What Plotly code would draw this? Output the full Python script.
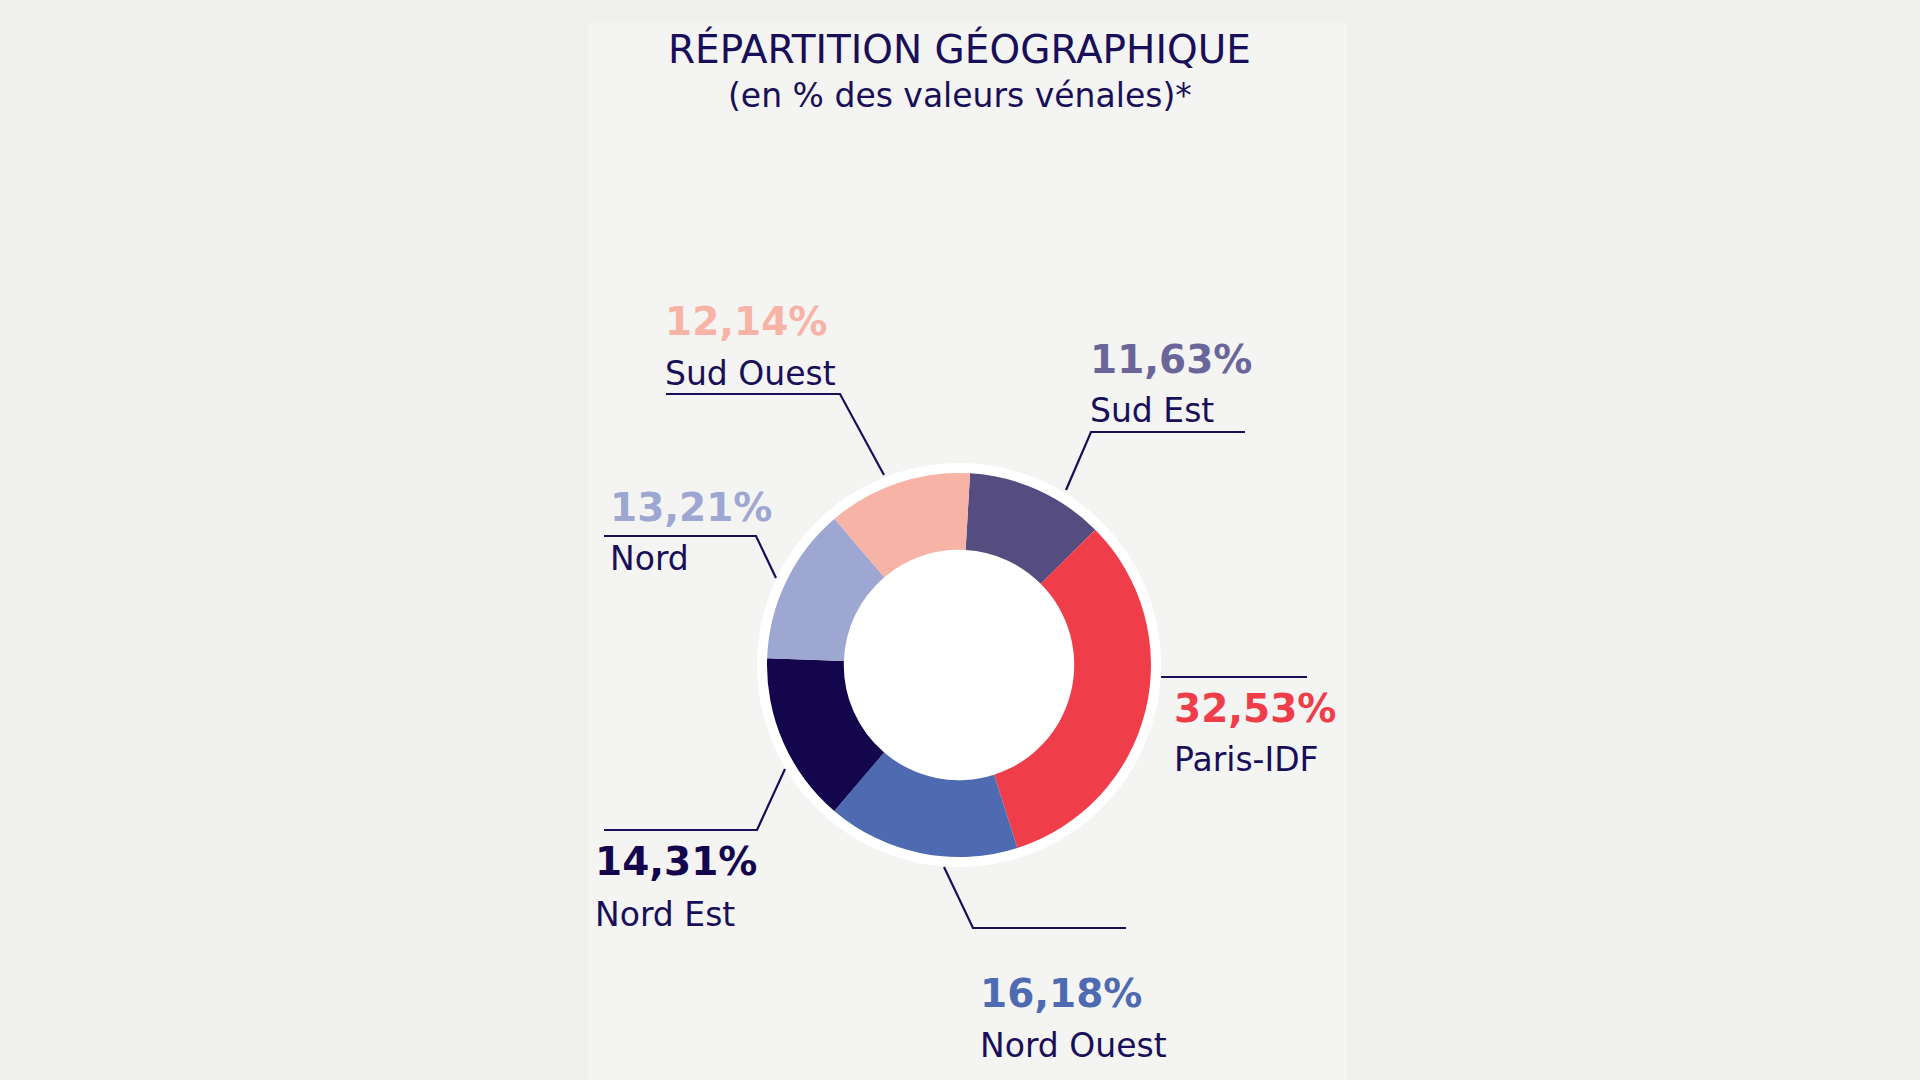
import plotly.graph_objects as go

# ---------------- data ----------------
regions = ["Sud Est", "Paris-IDF", "Nord Ouest", "Nord Est", "Nord", "Sud Ouest"]
shares = [11.63, 32.53, 16.18, 14.31, 13.21, 12.14]
share_labels = ["11,63%", "32,53%", "16,18%", "14,31%", "13,21%", "12,14%"]
slice_colors = ["#554d80", "#ef3e4a", "#4e6bb2", "#13064d", "#9ea7d1", "#f7b3a6"]
pct_colors = ["#6b6699", "#ef3e4a", "#4e6bb2", "#13064d", "#9ea7d1", "#f7b3a6"]

title_text = "RÉPARTITION GÉOGRAPHIQUE"
subtitle_text = "(en % des valeurs vénales)*"

# ---------------- layout (pixels) ----------------
W, H = 1920, 1080
NAVY = "#190f58"
BG = "#f0f0ee"
PANEL = "#f4f4f2"
FONT = "DejaVu Sans"

CX, CY, R = 959, 665, 192       # donut center / radius
RING = 10                        # white outer ring width
HOLE = 0.60
TXT_DX = -3                      # small horizontal nudge for label text

# label placement: (left x, pct center y, name center y) and leader polyline
label_pos = {
    "Sud Est":    (1091, 359, 410.5, [(1245, 432), (1091, 432), (1066, 490)]),
    "Paris-IDF":  (1175, 708, 759.5, [(1307, 677), (1161, 677)]),
    "Nord Ouest": (981, 993.5, 1045, [(1126, 928), (973, 928), (944, 867)]),
    "Nord Est":   (596, 861.5, 914, [(604, 830), (757, 830), (785, 769)]),
    "Nord":       (611, 507, 558.5, [(604, 536), (756, 536), (776, 578)]),
    "Sud Ouest":  (666, 321, 373.5, [(666, 394), (840, 394), (884, 475)]),
}


def px(x):
    return x / W


def py(y):
    return 1 - y / H


fig = go.Figure()
fig.add_trace(go.Pie(
    labels=regions,
    values=shares,
    sort=False,
    direction="clockwise",
    rotation=3.3,
    hole=HOLE,
    marker=dict(colors=slice_colors, line=dict(width=0)),
    textinfo="none",
    hoverinfo="label+percent",
    showlegend=False,
    domain=dict(x=[px(CX - R), px(CX + R)], y=[py(CY + R), py(CY - R)]),
))

shapes = [
    dict(type="rect", xref="paper", yref="paper", x0=px(588), x1=px(1347),
         y0=py(1080), y1=py(23), fillcolor=PANEL, line=dict(width=0), layer="below"),
    dict(type="circle", xref="paper", yref="paper",
         x0=px(CX - R - RING), x1=px(CX + R + RING),
         y0=py(CY + R + RING), y1=py(CY - R - RING),
         fillcolor="white", line=dict(width=0), layer="below"),
]

annotations = [
    dict(text=title_text, x=px(959.5), y=py(49), xref="paper", yref="paper",
         xanchor="center", yanchor="middle", showarrow=False,
         font=dict(family=FONT, size=39, color=NAVY)),
    dict(text=subtitle_text, x=px(959.5), y=py(95), xref="paper", yref="paper",
         xanchor="center", yanchor="middle", showarrow=False,
         font=dict(family=FONT, size=33, color=NAVY)),
]

for reg, lab, col in zip(regions, share_labels, pct_colors):
    lx, pcy, ncy, pts = label_pos[reg]
    annotations.append(dict(text=f"<b>{lab}</b>", x=px(lx + TXT_DX), y=py(pcy), xref="paper", yref="paper",
                            xanchor="left", yanchor="middle", showarrow=False,
                            font=dict(family=FONT, size=39, color=col)))
    annotations.append(dict(text=reg, x=px(lx + TXT_DX), y=py(ncy), xref="paper", yref="paper",
                            xanchor="left", yanchor="middle", showarrow=False,
                            font=dict(family=FONT, size=33, color=NAVY)))
    path = "M " + " L ".join(f"{px(x):.5f},{py(y):.5f}" for x, y in pts)
    shapes.append(dict(type="path", xref="paper", yref="paper", path=path,
                       line=dict(color=NAVY, width=2.2), layer="above"))

fig.update_layout(
    width=W, height=H,
    margin=dict(l=0, r=0, t=0, b=0),
    paper_bgcolor=BG, plot_bgcolor=BG,
    shapes=shapes, annotations=annotations,
)

fig.write_html(
    "out.html",
    config={"displayModeBar": False},
    post_script="document.body.style.margin='0';document.body.style.background='#f0f0ee';",
)
